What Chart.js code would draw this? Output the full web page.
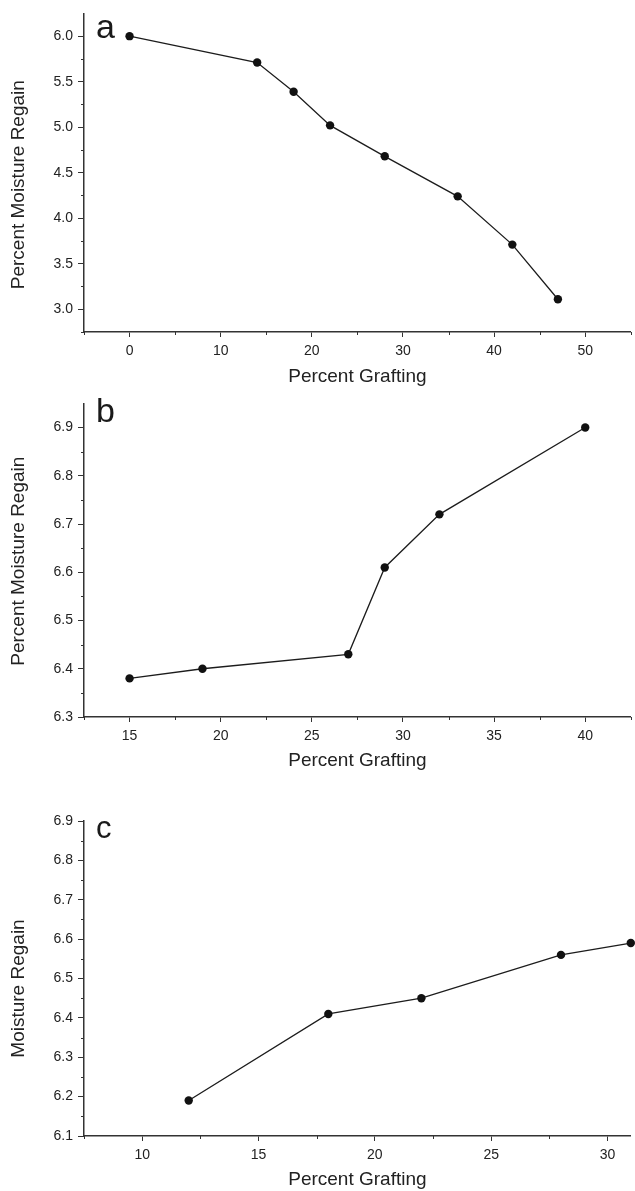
<!DOCTYPE html>
<html><head><meta charset="utf-8">
<script src="https://cdn.jsdelivr.net/npm/chart.js@4"></script>
<style>
html,body{margin:0;padding:0;background:#fff;}
#wrap{position:relative;width:635px;height:1191px;overflow:hidden;}
canvas{position:absolute;left:0;}
</style></head><body>
<div id="wrap">
<canvas id="ca" width="635" height="390" style="top:0px"></canvas>
<canvas id="cb" width="635" height="384" style="top:390px"></canvas>
<canvas id="cc" width="635" height="401" style="top:790px"></canvas>
</div>
<script>
// ---- Panel a ----
const graftA  = [0, 14, 18, 22, 28, 36, 42, 47];
const regainA = [6.00, 5.71, 5.39, 5.02, 4.68, 4.24, 3.71, 3.11];
const xTicksA = [0, 10, 20, 30, 40, 50];
const xMinorA = [-5, 5, 15, 25, 35, 45, 55];
const yTicksA = [3.0, 3.5, 4.0, 4.5, 5.0, 5.5, 6.0];
const yMinorA = [2.75, 3.25, 3.75, 4.25, 4.75, 5.25, 5.75];

// ---- Panel b ----
const graftB  = [15, 19, 27, 29, 32, 40];
const regainB = [6.38, 6.40, 6.43, 6.61, 6.72, 6.90];
const xTicksB = [15, 20, 25, 30, 35, 40];
const xMinorB = [12.5, 17.5, 22.5, 27.5, 32.5, 37.5, 42.5];
const yTicksB = [6.3, 6.4, 6.5, 6.6, 6.7, 6.8, 6.9];
const yMinorB = [6.35, 6.45, 6.55, 6.65, 6.75, 6.85];

// ---- Panel c ----
const graftC  = [12, 18, 22, 28, 31];
const regainC = [6.19, 6.41, 6.45, 6.56, 6.59];
const xTicksC = [10, 15, 20, 25, 30];
const xMinorC = [7.5, 12.5, 17.5, 22.5, 27.5];
const yTicksC = [6.1, 6.2, 6.3, 6.4, 6.5, 6.6, 6.7, 6.8, 6.9];
const yMinorC = [6.15, 6.25, 6.35, 6.45, 6.55, 6.65, 6.75, 6.85];

const FAM = '"Liberation Sans", Arial, Helvetica, sans-serif';
const INK = '#1c1c1c';
const AXIS = '#333333';

const decor = {
  id: 'decor',
  afterDraw(chart, args, o) {
    const ctx = chart.ctx;
    const xs = chart.scales.x, ys = chart.scales.y;
    ctx.save();
    ctx.strokeStyle = AXIS;
    ctx.lineWidth = 1;
    ctx.beginPath();
    for (const v of o.xMinor) {
      const px = Math.round(xs.getPixelForValue(v)) + 0.5;
      ctx.moveTo(px, xs.top);
      ctx.lineTo(px, xs.top + 3);
    }
    for (const v of o.yMinor) {
      const py = Math.round(ys.getPixelForValue(v)) + 0.5;
      ctx.moveTo(ys.right - 3, py);
      ctx.lineTo(ys.right, py);
    }
    ctx.stroke();
    // y axis title
    const ca = chart.chartArea;
    ctx.fillStyle = '#222';
    ctx.font = '19px ' + FAM;
    ctx.textAlign = 'center';
    ctx.textBaseline = 'middle';
    ctx.translate(o.yTitleX, (ca.top + ca.bottom) / 2 + o.yTitleShift);
    ctx.rotate(-Math.PI / 2);
    ctx.fillText(o.yTitle, 0, 0);
    ctx.restore();
    // panel letter
    ctx.save();
    ctx.fillStyle = '#1a1a1a';
    ctx.font = o.letterSize + 'px ' + FAM;
    ctx.textAlign = 'left';
    ctx.textBaseline = 'alphabetic';
    ctx.fillText(o.letter, o.letterX, o.letterY);
    ctx.restore();
  }
};

function makeChart(id, gx, gy, cfg) {
  const pts = gx.map((x, i) => ({ x: x, y: gy[i] }));
  return new Chart(document.getElementById(id), {
    type: 'line',
    data: { datasets: [{
      data: pts,
      borderColor: INK,
      borderWidth: 1.3,
      backgroundColor: INK,
      pointRadius: 4.2,
      pointBackgroundColor: '#111',
      pointBorderWidth: 0,
      tension: 0,
      clip: false
    }]},
    options: {
      responsive: false,
      animation: false,
      layout: { padding: { top: cfg.padTop, right: cfg.padRight, left: 0, bottom: 0 } },
      plugins: {
        legend: { display: false },
        tooltip: { enabled: false },
        decor: {
          xMinor: cfg.xMinor, yMinor: cfg.yMinor,
          yTitle: cfg.yTitle, yTitleX: 19, yTitleShift: cfg.yTitleShift,
          letter: cfg.letter, letterX: cfg.letterX, letterY: cfg.letterY, letterSize: cfg.letterSize
        }
      },
      scales: {
        x: {
          type: 'linear',
          min: cfg.xMin, max: cfg.xMax,
          afterBuildTicks: s => { s.ticks = cfg.xTicks.map(v => ({ value: v })); },
          afterFit: s => { s.height = cfg.xHeight; },
          ticks: { font: { size: 14, family: FAM }, color: '#222', padding: 6,
                   maxRotation: 0, autoSkip: false, callback: v => String(v) },
          grid: { drawOnChartArea: false, drawTicks: true, tickLength: 5, color: AXIS, tickWidth: 1 },
          border: { display: true, color: AXIS, width: 1.5 },
          title: { display: true, text: 'Percent Grafting', color: '#222',
                   font: { size: 19, family: FAM }, padding: { top: 0, bottom: cfg.titleBottom } }
        },
        y: {
          type: 'linear',
          min: cfg.yMin, max: cfg.yMax,
          afterBuildTicks: s => { s.ticks = cfg.yTicks.map(v => ({ value: v })); },
          afterFit: s => { s.width = 84; },
          ticks: { font: { size: 14, family: FAM }, color: '#222', padding: 5,
                   autoSkip: false, callback: v => Number(v).toFixed(1) },
          grid: { drawOnChartArea: false, drawTicks: true, tickLength: 6, color: AXIS, tickWidth: 1 },
          border: { display: true, color: AXIS, width: 1.5 },
          title: { display: false }
        }
      }
    },
    plugins: [decor]
  });
}

makeChart('ca', graftA, regainA, {
  xMin: -5, xMax: 55, yMin: 2.75, yMax: 6.25,
  xTicks: xTicksA, xMinor: xMinorA, yTicks: yTicksA, yMinor: yMinorA,
  padTop: 13, padRight: 0, xHeight: 58, titleBottom: 2,
  yTitle: 'Percent Moisture Regain', yTitleShift: 12,
  letter: 'a', letterX: 96, letterY: 38, letterSize: 34
});
makeChart('cb', graftB, regainB, {
  xMin: 12.5, xMax: 42.5, yMin: 6.3, yMax: 6.95,
  xTicks: xTicksB, xMinor: xMinorB, yTicks: yTicksB, yMinor: yMinorB,
  padTop: 7, padRight: 0, xHeight: 57, titleBottom: 2,
  yTitle: 'Percent Moisture Regain', yTitleShift: 1,
  letter: 'b', letterX: 96, letterY: 32, letterSize: 34
});
makeChart('cc', graftC, regainC, {
  xMin: 7.5, xMax: 31, yMin: 6.1, yMax: 6.9,
  xTicks: xTicksC, xMinor: xMinorC, yTicks: yTicksC, yMinor: yMinorC,
  padTop: 31, padRight: 4, xHeight: 55, titleBottom: 0,
  yTitle: 'Moisture Regain', yTitleShift: 10,
  letter: 'c', letterX: 96, letterY: 48, letterSize: 31
});
</script>
</body></html>
